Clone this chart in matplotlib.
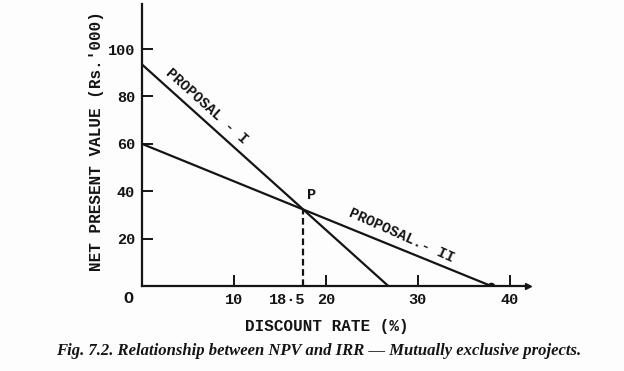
import matplotlib
matplotlib.use("Agg")
import matplotlib.pyplot as plt
import numpy as np

# NPV profiles of the two proposals (discount rate %, NPV in Rs.'000)
rate_p1 = [0, 26.8]
npv_p1 = [93.5, 0]
rate_p2 = [0, 38]
npv_p2 = [60, 0]

x_ticks = [10, 20, 30, 40]
y_ticks = [20, 40, 60, 80, 100]

mono = ["Liberation Mono", "DejaVu Sans Mono"]
ink = "#141414"

fig = plt.figure(figsize=(6.24, 3.71), dpi=100)
fig.patch.set_facecolor("#fdfdfd")
ax = fig.add_axes([0.2276, 0.229, 0.6186, 0.760])
ax.set_facecolor("#fdfdfd")

ax.plot(rate_p1, npv_p1, color=ink, lw=1.6, solid_capstyle="butt")
ax.plot(rate_p2, npv_p2, color=ink, lw=1.6, solid_capstyle="butt")
ax.plot([rate_p2[1]], [0], "o", color=ink, ms=4.5)

# intersection point P
s1 = (npv_p1[1] - npv_p1[0]) / (rate_p1[1] - rate_p1[0])
s2 = (npv_p2[1] - npv_p2[0]) / (rate_p2[1] - rate_p2[0])
px = (npv_p2[0] - npv_p1[0]) / (s1 - s2)
py = npv_p1[0] + s1 * px
ax.plot([px, px], [0, py], color=ink, lw=1.6, ls=(0, (3, 1.6)))
ax.text(px + 0.4, py + 3, "P", fontfamily=mono, fontsize=11, color=ink,
        fontweight="bold", ha="left", va="bottom")
ax.text(px - 1.7, -2.95, "18·5", fontfamily=mono, fontsize=11, color=ink,
        fontweight="bold", ha="center", va="top")

ax.text(7.0, 76, "PROPOSAL - I", fontfamily=mono, fontsize=10.5, color=ink,
        fontweight="bold", rotation=-42, ha="center", va="center",
        rotation_mode="anchor")
ax.text(28.2, 21.5, "PROPOSAL.- II", fontfamily=mono, fontsize=10.5, color=ink,
        fontweight="bold", rotation=-24, ha="center", va="center",
        rotation_mode="anchor")

ax.set_xlim(0, 42)
ax.set_ylim(0, 119)
ax.set_xticks(x_ticks)
ax.set_yticks(y_ticks)
ax.tick_params(direction="in", length=8, width=1.4, colors=ink, pad=5,
               labelsize=11)
for lab in ax.get_xticklabels() + ax.get_yticklabels():
    lab.set_fontfamily(mono)
    lab.set_fontweight("bold")

for side in ["top", "right"]:
    ax.spines[side].set_visible(False)
for side in ["left", "bottom"]:
    ax.spines[side].set_linewidth(1.6)
    ax.spines[side].set_color(ink)
ax.plot(1, 0, ">", color=ink, ms=4, transform=ax.transAxes, clip_on=False)

ax.text(-0.035, -0.045, "O", transform=ax.transAxes, fontfamily=mono,
        fontsize=12, fontweight="bold", color=ink, ha="center", va="center")

fig.text(0.524, 0.121, "DISCOUNT RATE (%)", fontfamily=mono, fontsize=11.5,
         fontweight="bold", color=ink, ha="center", va="center")
fig.text(0.155, 0.62, "NET PRESENT VALUE (Rs.'000)", fontfamily=mono,
         fontsize=11.5, fontweight="bold", color=ink, ha="center",
         va="center", rotation=90)

fig.text(0.51, 0.053,
         "Fig. 7.2. Relationship between NPV and IRR \u2014 Mutually exclusive projects.",
         fontfamily=["Liberation Serif", "DejaVu Serif"], fontsize=12,
         fontweight="bold", fontstyle="italic", color=ink,
         ha="center", va="center")

fig.savefig("out.png", dpi=100, facecolor=fig.get_facecolor())
